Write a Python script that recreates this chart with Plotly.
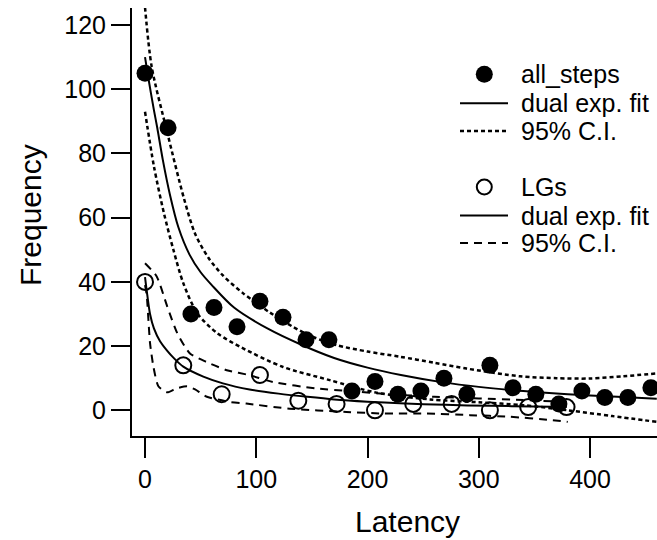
import plotly.graph_objects as go

# ---------------- data ----------------
all_x = [0, 20.7, 41.3, 62.0, 82.7, 103.3, 124.0, 144.7, 165.3, 186.0, 206.7, 227.3,
         248.0, 268.7, 289.3, 310.0, 330.7, 351.3, 372.0, 392.7, 413.3, 434.0, 454.7]
all_y = [105, 88, 30, 32, 26, 34, 29, 22, 22, 6, 9, 5, 6, 10, 5, 14, 7, 5, 2, 6, 4, 4, 7]

lg_x = [0, 34.4, 68.9, 103.3, 137.8, 172.2, 206.7, 241.1, 275.6, 310.0, 344.4, 378.9]
lg_y = [40, 14, 5, 11, 3, 2, 0, 2, 2, 0, 1, 1]

# dual exponential fit to all_steps and its 95% confidence band
fit_all_x = [0, 3, 8, 11, 16, 22.5, 30, 40, 50, 60, 80, 110, 140, 170, 200, 230, 268, 300, 340, 380, 420, 460]
fit_all_y = [110, 103.5, 93.5, 88, 78, 67, 57, 48.5, 43, 39, 32, 25.5, 20.5, 16.3, 13.3, 11, 8.7, 7.3, 6.0, 5.0, 4.3, 3.6]

ci_all_up_x = [0, 6, 20, 35, 45, 57, 70, 88, 112, 133, 150, 172, 200, 229, 260, 289, 337, 370, 400, 430, 460]
ci_all_up_y = [125.5, 107, 86.5, 66, 55, 47.5, 42, 36.5, 30.5, 26, 23, 20.3, 18.3, 16.7, 14.8, 13, 10.6, 10, 9.9, 10.6, 11.5]

ci_all_lo_x = [0, 8, 17, 25.5, 34.4, 47, 65, 87, 124, 166, 208, 256, 300, 340, 380, 420, 460]
ci_all_lo_y = [93, 76, 61.4, 50, 39.6, 30.2, 24, 19.5, 13.5, 9.4, 5.5, 3.4, 2.5, 1.6, 0, -1.8, -3.6]

# dual exponential fit to LGs and its 95% confidence band
fit_lg_x = [0, 2, 4.5, 8, 13.5, 20, 25.5, 34.4, 52.4, 70, 94, 120, 146, 170, 200, 229, 270, 310, 350, 379]
fit_lg_y = [41.5, 36, 30, 25.5, 21.5, 18.5, 16.4, 13.6, 10.5, 8.4, 6.5, 5.2, 4.2, 3.4, 2.7, 2.2, 1.7, 1.4, 1.2, 1.0]

ci_lg_up_x = [0, 10.5, 20, 29, 40.4, 55, 73.5, 94.4, 115, 154, 184, 220, 260, 300, 340, 380]
ci_lg_up_y = [45.8, 41.7, 32.3, 24, 17.7, 15.1, 12.5, 10.9, 8.8, 6.8, 6.0, 5.0, 4.2, 3.7, 3.2, 2.6]

ci_lg_lo_x = [0, 1.5, 4.5, 7.6, 12, 20, 28, 38, 45, 55, 76, 91, 130, 181, 214, 253, 292, 328, 364, 380]
ci_lg_lo_y = [39, 36, 21, 13.5, 7.5, 5.6, 6.8, 7.5, 6.5, 4.3, 2.6, 2.1, 0.5, -0.5, -1, -1, -1.5, -2, -3, -3.6]

x_ticks = [0, 100, 200, 300, 400]
y_ticks = [0, 20, 40, 60, 80, 100, 120]
x_title = "Latency"
y_title = "Frequency"
legend_labels = ["all_steps", "dual exp. fit", "95% C.I.", "LGs", "dual exp. fit", "95% C.I."]

# ---------------- figure ----------------
FONT = "Liberation Sans, Arial, sans-serif"
W, H = 657, 540
ML, MR, MT, MB = 132, 0, 8, 104
PW, PH = W - ML - MR, H - MT - MB

fig = go.Figure()

DOT = "4px,3px"
DASH = "8px,6px"

def band(xu, yu, xl, yl):
    return list(xu) + [None] + list(xl), list(yu) + [None] + list(yl)

bx, by = band(ci_all_up_x, ci_all_up_y, ci_all_lo_x, ci_all_lo_y)
fig.add_trace(go.Scatter(x=bx, y=by, mode="lines", line=dict(color="black", width=2.5, dash=DOT, shape="spline", smoothing=0.8),
                         connectgaps=False, hoverinfo="skip"))
fig.add_trace(go.Scatter(x=fit_all_x, y=fit_all_y, mode="lines",
                         line=dict(color="black", width=2, shape="spline", smoothing=0.8)))
bx, by = band(ci_lg_up_x, ci_lg_up_y, ci_lg_lo_x, ci_lg_lo_y)
fig.add_trace(go.Scatter(x=bx, y=by, mode="lines", line=dict(color="black", width=2, dash=DASH, shape="spline", smoothing=0.6),
                         connectgaps=False, hoverinfo="skip"))
fig.add_trace(go.Scatter(x=fit_lg_x, y=fit_lg_y, mode="lines",
                         line=dict(color="black", width=2, shape="spline", smoothing=0.8)))
fig.add_trace(go.Scatter(x=all_x, y=all_y, mode="markers", cliponaxis=False,
                         marker=dict(symbol="circle", size=17, color="black", line=dict(width=0))))
fig.add_trace(go.Scatter(x=lg_x, y=lg_y, mode="markers", cliponaxis=False,
                         marker=dict(symbol="circle-open", size=16, color="black", line=dict(width=2))))

# ---------------- manual legend (pixel layout -> paper coords) ----------------
def px(x):
    return (x - ML) / PW

def py(y):
    return (H - MB - y) / PH

rows = [74.3, 103.3, 131, 187, 215.5, 243]
shapes = []
annos = []
r = 8.5
shapes.append(dict(type="circle", xref="paper", yref="paper", x0=px(484.3 - r), x1=px(484.3 + r),
                   y0=py(rows[0] + r), y1=py(rows[0] - r), fillcolor="black", line=dict(width=0)))
shapes.append(dict(type="line", xref="paper", yref="paper", x0=px(460), x1=px(508), y0=py(rows[1]), y1=py(rows[1]),
                   line=dict(color="black", width=2)))
shapes.append(dict(type="line", xref="paper", yref="paper", x0=px(460), x1=px(508), y0=py(rows[2]), y1=py(rows[2]),
                   line=dict(color="black", width=2.5, dash=DOT)))
r2 = 7.5
shapes.append(dict(type="circle", xref="paper", yref="paper", x0=px(484.3 - r2), x1=px(484.3 + r2),
                   y0=py(rows[3] + r2), y1=py(rows[3] - r2), fillcolor="rgba(0,0,0,0)", line=dict(color="black", width=2)))
shapes.append(dict(type="line", xref="paper", yref="paper", x0=px(460), x1=px(508), y0=py(rows[4]), y1=py(rows[4]),
                   line=dict(color="black", width=2)))
shapes.append(dict(type="line", xref="paper", yref="paper", x0=px(460), x1=px(508), y0=py(rows[5]), y1=py(rows[5]),
                   line=dict(color="black", width=2, dash=DASH)))
for lab, yy in zip(legend_labels, rows):
    annos.append(dict(text=lab, xref="paper", yref="paper", x=px(519), y=py(yy), xanchor="left", yanchor="middle",
                      showarrow=False, font=dict(family=FONT, size=25, color="black")))

annos.append(dict(text=x_title, xref="paper", yref="paper", x=px(407), y=py(521), xanchor="center", yanchor="middle",
                  showarrow=False, font=dict(family=FONT, size=30, color="black")))
annos.append(dict(text=y_title, xref="paper", yref="paper", x=px(30), y=py(215), xanchor="center", yanchor="middle",
                  textangle=-90, showarrow=False, font=dict(family=FONT, size=30, color="black")))

fig.update_layout(
    width=W, height=H,
    margin=dict(l=ML, r=MR, t=MT, b=MB),
    paper_bgcolor="white", plot_bgcolor="white",
    showlegend=False,
    font=dict(family=FONT, color="black"),
    shapes=shapes, annotations=annos,
    xaxis=dict(range=[-11.7, 460.2], tickvals=x_ticks, ticks="outside", ticklen=20, tickwidth=2,
               tickcolor="black", showline=True, linecolor="black", linewidth=2, showgrid=False, zeroline=False,
               tickfont=dict(family=FONT, size=25, color="black")),
    yaxis=dict(range=[-8.0, 125.3], tickvals=y_ticks, ticks="outside", ticklen=19, tickwidth=2,
               tickcolor="black", showline=True, linecolor="black", linewidth=2, showgrid=False, zeroline=False,
               tickfont=dict(family=FONT, size=25, color="black")),
)

fig.write_html("out.html", config={"displayModeBar": False},
               post_script="document.body.style.margin='0';document.body.style.overflow='hidden';")
